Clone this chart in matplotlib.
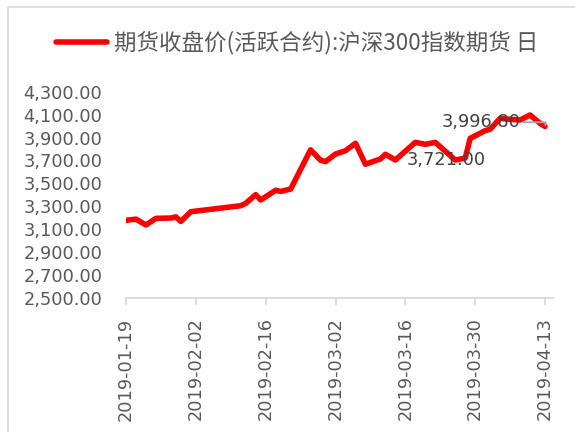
import matplotlib
matplotlib.use("Agg")
import matplotlib.pyplot as plt
import matplotlib.dates as mdates
from matplotlib.patches import Rectangle
from matplotlib.ticker import FuncFormatter
import pandas as pd

dates = ["2019-01-19", "2019-01-21", "2019-01-23", "2019-01-25", "2019-01-28",
         "2019-01-29", "2019-01-30", "2019-02-01", "2019-02-11", "2019-02-12",
         "2019-02-14", "2019-02-15", "2019-02-18", "2019-02-19", "2019-02-21",
         "2019-02-25", "2019-02-27", "2019-02-28", "2019-03-02", "2019-03-04",
         "2019-03-06", "2019-03-08", "2019-03-11", "2019-03-12", "2019-03-14",
         "2019-03-18", "2019-03-20", "2019-03-22", "2019-03-26", "2019-03-28",
         "2019-03-29", "2019-04-01", "2019-04-02", "2019-04-04", "2019-04-06",
         "2019-04-08", "2019-04-10", "2019-04-12", "2019-04-13"]
values = [3178, 3188, 3137, 3195, 3198,
          3208, 3168, 3253, 3305, 3326,
          3402, 3355, 3440, 3430, 3450,
          3793, 3702, 3690, 3756, 3785,
          3850, 3667, 3713, 3754, 3704,
          3858, 3841, 3858, 3704, 3721.0,
          3893, 3960, 3972, 4068, 4059,
          4053, 4097, 4024, 3996.8]
series_name = "期货收盘价(活跃合约):沪深300指数期货 日"
tick_dates = ["2019-01-19", "2019-02-02", "2019-02-16", "2019-03-02",
              "2019-03-16", "2019-03-30", "2019-04-13"]
y_ticks = [2500, 2700, 2900, 3100, 3300, 3500, 3700, 3900, 4100, 4300]
labeled_dates = ["2019-03-28", "2019-04-13"]

x = pd.to_datetime(dates)
W, H = 575, 432
fig = plt.figure(figsize=(W / 100, H / 100), dpi=100)
ax = fig.add_axes([126 / W, 1 - 298 / H, (553 - 126) / W, (298 - 91.7) / H])

line, = ax.plot(x, values, color="#ff0000", lw=4.0, solid_joinstyle="round",
                solid_capstyle="round", label=series_name)

xmin = mdates.date2num(pd.Timestamp("2019-01-19"))
ax.set_xlim(xmin, xmin + 85.6)
ax.set_ylim(y_ticks[0], y_ticks[-1])
ax.set_yticks(y_ticks)
ax.yaxis.set_major_formatter(FuncFormatter(lambda v, p: f"{v:,.2f}"))
ax.set_xticks(pd.to_datetime(tick_dates))
ax.xaxis.set_major_formatter(mdates.DateFormatter("%Y-%m-%d"))

for s in ["left", "right", "top"]:
    ax.spines[s].set_visible(False)
ax.spines["bottom"].set_color("#d9d9d9")
ax.spines["bottom"].set_linewidth(1.3)
ax.tick_params(axis="y", length=0, pad=17, labelsize=12.8, labelcolor="#595959")
ax.tick_params(axis="x", length=5, width=1.3, color="#d9d9d9", pad=9,
               labelsize=12.8, labelcolor="#595959", labelrotation=90)
for lab in ax.get_yticklabels() + ax.get_xticklabels():
    lab.set_family("DejaVu Sans")

# data labels
lbl_font = dict(fontsize=12.8, color="#404040", family="DejaVu Sans")
d_last = pd.Timestamp(labeled_dates[1])
v_last = values[dates.index(labeled_dates[1])]
ax.annotate(f"{v_last:,.2f}", xy=(d_last, v_last), xytext=(-46, 3),
            textcoords="offset points", ha="center", va="center", **lbl_font,
            arrowprops=dict(arrowstyle="-", color="#a6a6a6", lw=1.3,
                            shrinkA=0, shrinkB=1,
                            connectionstyle="angle,angleA=0,angleB=80,rad=0"))
d_mid = pd.Timestamp(labeled_dates[0])
v_mid = values[dates.index(labeled_dates[0])]
ax.annotate(f"{v_mid:,.2f}", xy=(d_mid, v_mid), xytext=(-14, -1.5),
            textcoords="offset points", ha="center", va="center", **lbl_font)

leg = ax.legend(handles=[line], loc="center", bbox_to_anchor=(297 / W, 1 - 43 / H),
                bbox_transform=fig.transFigure, frameon=False, handlelength=2.3,
                handletextpad=0.3, prop=dict(family=["Noto Sans CJK SC", "DejaVu Sans"], size=16.2))
for t in leg.get_texts():
    t.set_color("#595959")

fig.patches.append(Rectangle((8 / W, -0.02), 1.2, 1.02 - 7 / H, transform=fig.transFigure,
                             fill=False, edgecolor="#d9d9d9", lw=1.2))

fig.savefig("out.png", dpi=100)
